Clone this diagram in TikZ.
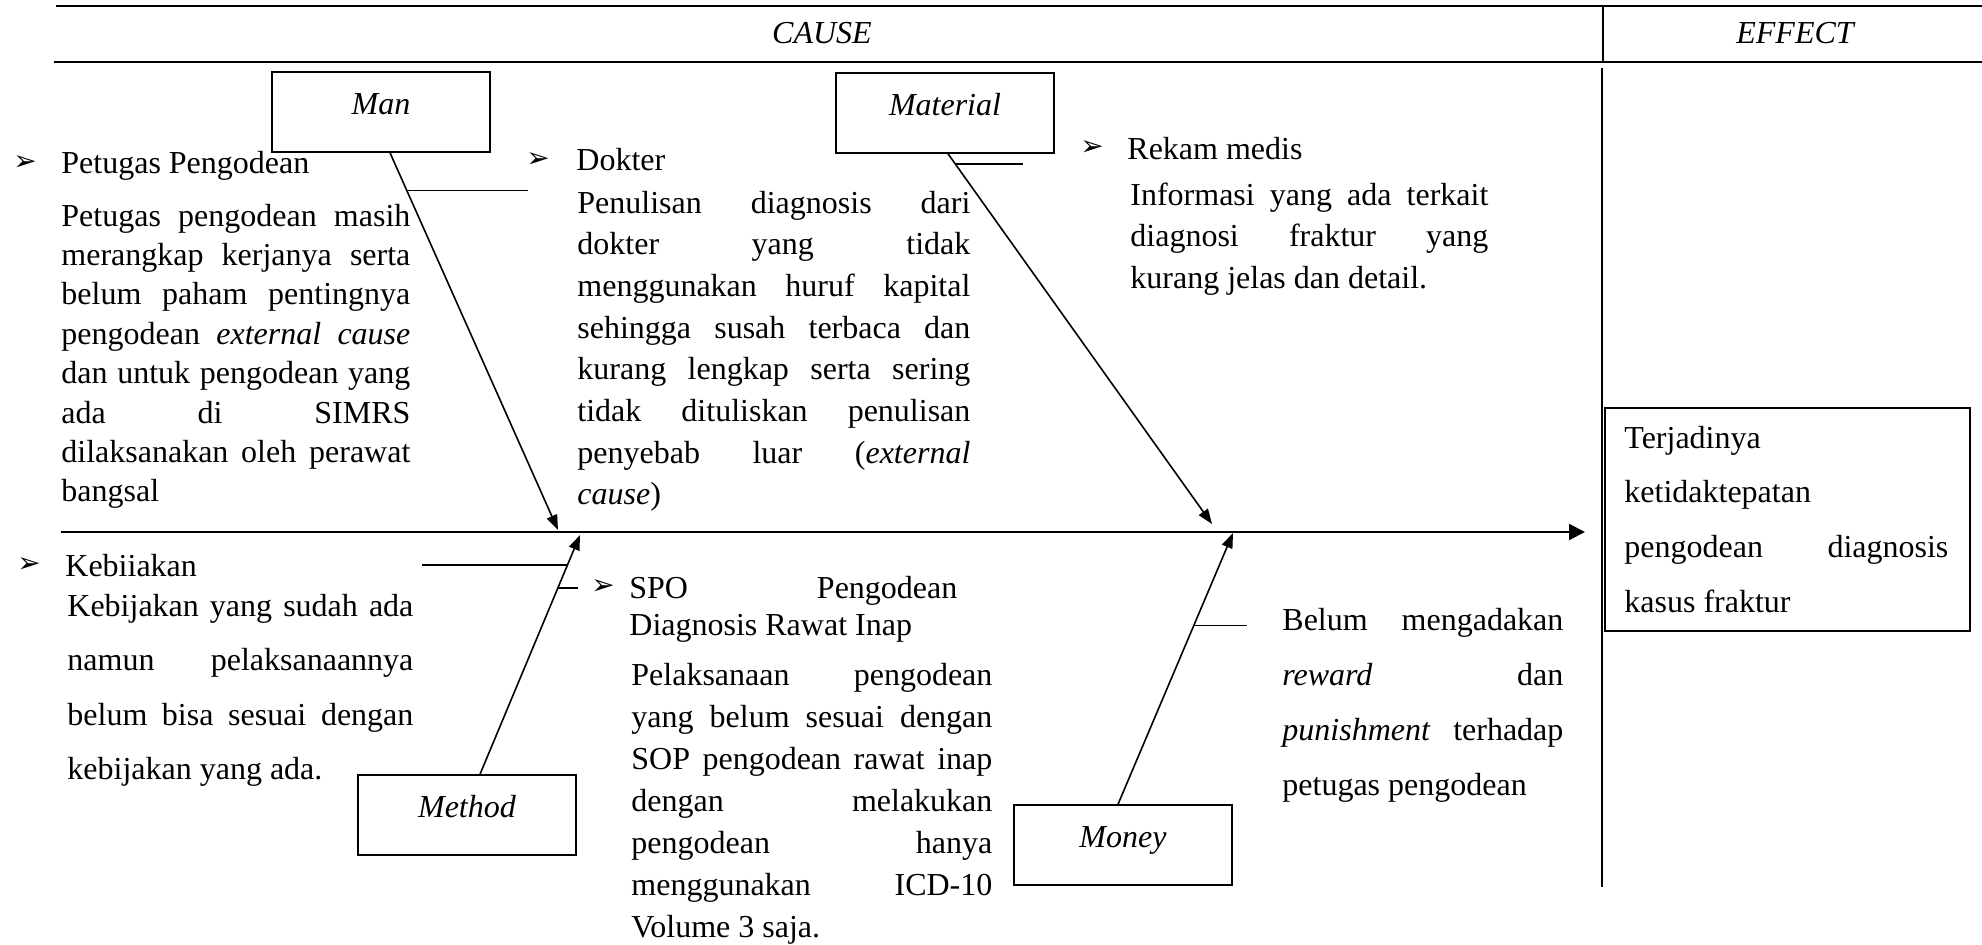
\documentclass[tikz,border=0pt]{standalone}
\usepackage{fontspec}
\setmainfont{Liberation Serif}
\newfontfamily\dingfont{DejaVu Sans}
\usetikzlibrary{arrows.meta}
\newcommand\setsz[1]{\fontsize{16}{#1}\selectfont}
\hyphenpenalty=10000

\begin{document}
\begin{tikzpicture}[x=0.5pt,y=-0.5pt,font=\setsz{20pt},
	box/.style={draw,line width=0.75pt,inner sep=0pt,minimum width=109pt,text height=21pt,text depth=19pt,font=\setsz{20pt}\itshape},
	bone/.style={line width=0.8pt,-{Triangle[length=7.5pt,width=5.5pt]}},
	spine/.style={line width=1pt,-{Triangle[length=8pt,width=8pt]}},
	twig/.style={line width=0.8pt},
	para/.style={anchor=base west,inner sep=0pt,align=justify},
	bul/.style={inner sep=0pt,font=\dingfont\fontsize{14}{14}\selectfont}]
			\useasboundingbox (0,0) rectangle (1982,944);
			%table frame
			\draw[line width=1pt] (56,6) -- (1982,6);
			\draw[line width=1pt] (54,62) -- (1982,62);
			\draw[line width=1pt] (1603,6) -- (1603,62);
			\draw[line width=0.75pt] (1602,68) -- (1602,887);
			\node[font=\setsz{20pt}\itshape,anchor=base] (cause) at (822,43) {CAUSE};
			\node[font=\setsz{20pt}\itshape,anchor=base] (effect) at (1795,43) {EFFECT};
			
			%category boxes
			\node[box] (man) at (381,112) {Man};
			\node[box] (material) at (945,113) {Material};
			\node[box] (method) at (467,815) {Method};
			\node[box] (money) at (1123,845) {Money};
			
			%effect box
			\node[draw,line width=0.75pt,anchor=north west,inner sep=0pt,minimum width=182.5pt,minimum height=111.5pt] (effbox) at (1604,407) {};
			\node[para,text width=162pt,font=\setsz{27.35pt}] (efftext) at (1624,448)
			{Terjadinya\linebreak ketidaktepatan\linebreak pengodean diagnosis\linebreak kasus fraktur};
			
			%spine
			\coordinate (tail) at (61,532);
			\draw[spine,shorten >=9.5pt] (tail) -- (tail -| effbox.west);
			
			%bones
			\coordinate (mantip) at (558,530);
			\coordinate (materialtip) at (1212,524);
			\coordinate (methodtip) at (580,535);
			\coordinate (moneytip) at (1233,533);
			\draw[bone] ([xshift=4.5pt]man.south) -- coordinate[pos=0.1] (manfork) (mantip);
			\draw[bone] ([xshift=1.5pt]material.south) -- coordinate[pos=0.027] (materialfork) (materialtip);
			\draw[bone] ([xshift=6.5pt]method.north) -- coordinate[pos=0.875] (methodforka) coordinate[pos=0.779] (methodforkb) (methodtip);
			\draw[bone] ([xshift=-2.5pt]money.north) -- coordinate[pos=0.659] (moneyfork) (moneytip);
			
			%twigs
			\draw[twig] (manfork) -- ++(121,0);
			\draw[twig] (materialfork) -- ++(68,0);
			\draw[twig] (methodforka) -- ++(-146,0);
			\draw[twig] (methodforkb) -- ++(20,0);
			\draw[twig] (moneyfork) -- ++(53,0);
			
			%man
			\node[bul] (petugasbul) at (25,163) {➢};
			\node[para] (petugashead) at (61,173) {Petugas Pengodean};
			\node[para,text width=174.5pt,font=\setsz{19.7pt}] (petugastext) at (61,226)
			{Petugas pengodean masih\linebreak merangkap kerjanya serta\linebreak belum paham pentingnya\linebreak pengodean \textit{external cause}\linebreak dan untuk pengodean yang\linebreak ada di SIMRS\linebreak dilaksanakan oleh perawat\linebreak bangsal};
			\node[bul] (dokterbul) at (538,160) {➢};
			\node[para] (dokterhead) at (576,170) {Dokter};
			\node[para,text width=196.5pt,font=\setsz{20.85pt}] (doktertext) at (577,213)
			{Penulisan diagnosis dari\linebreak dokter yang tidak\linebreak menggunakan huruf kapital\linebreak sehingga susah terbaca dan\linebreak kurang lengkap serta sering\linebreak tidak dituliskan penulisan\linebreak penyebab luar (\textit{external}\linebreak \textit{cause})};
			
			%material
			\node[bul] (rekambul) at (1092,148) {➢};
			\node[para] (rekamhead) at (1127,159) {Rekam medis};
			\node[para,text width=179pt,font=\setsz{20.75pt}] (rekamtext) at (1130,205)
			{Informasi yang ada terkait\linebreak diagnosi fraktur yang\linebreak kurang jelas dan detail.};
			
			%method
			\node[bul] (kebijakanbul) at (29,565) {➢};
			\node[para] (kebijakanhead) at (65,576) {Kebiiakan};
			\node[para,text width=173pt,font=\setsz{27.25pt}] (kebijakantext) at (67,616)
			{Kebijakan yang sudah ada\linebreak namun pelaksanaannya\linebreak belum bisa sesuai dengan\linebreak kebijakan yang ada.};
			\node[bul] (spobul) at (603,587) {➢};
			\node[para,text width=164pt,font=\setsz{18.5pt}] (spohead) at (629,598)
			{SPO Pengodean\linebreak Diagnosis Rawat Inap};
			\node[para,text width=180.5pt,font=\setsz{21pt}] (spotext) at (631,685)
			{Pelaksanaan pengodean\linebreak yang belum sesuai dengan\linebreak SOP pengodean rawat inap\linebreak dengan melakukan\linebreak pengodean hanya\linebreak menggunakan ICD-10\linebreak Volume 3 saja.};
			
			%money
			\node[para,text width=140.5pt,font=\setsz{27.5pt}] (moneytext) at (1282,630)
			{Belum mengadakan\linebreak \textit{reward} dan\linebreak \textit{punishment} terhadap\linebreak petugas pengodean};
\end{tikzpicture}
\end{document}
